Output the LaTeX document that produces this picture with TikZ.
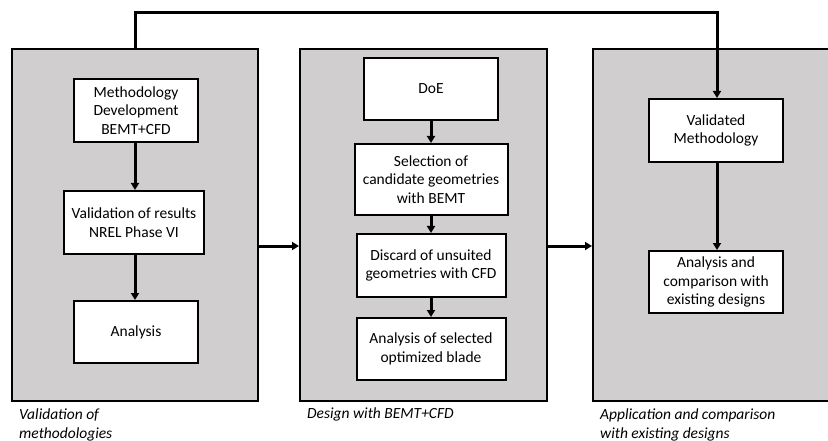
\documentclass[tikz,border=0pt]{standalone}
\usepackage{fontspec}
\setmainfont{Carlito}
\usetikzlibrary{arrows.meta,positioning}
\definecolor{panelgray}{RGB}{208,206,206}
\begin{document}
\begin{tikzpicture}[x=1pt,y=-1pt,
  panel/.style={draw=black,line width=2pt,fill=panelgray,inner sep=0pt},
  stepbox/.style={draw=black,line width=2pt,fill=white,align=center,inner sep=0pt,font=\fontsize{15.5}{18.8}\selectfont},
  arr/.style={line width=3pt,-{Triangle[length=7pt,width=8pt]}},
  captext/.style={anchor=north west,align=left,inner sep=0pt,font=\fontsize{15.5}{18.5}\selectfont\itshape}]
\useasboundingbox (0,0) rectangle (828,441);
\clip (0,0) rectangle (828,441);
% panels
\node[panel,minimum width=246pt,minimum height=352pt] (p1) at (135,225) {};
\node[panel,minimum width=247pt,minimum height=352pt] (p2) at (423.5,225) {};
\node[panel,minimum width=245pt,minimum height=352pt] (p3) at (715.5,225) {};
% left boxes
\node[stepbox,minimum width=124pt,minimum height=63pt] (a1) at (136,110.5) {Methodology\\Development\\BEMT+CFD};
\node[stepbox,minimum width=140pt,minimum height=63pt] (a2) at (134,222.5) {Validation of results\\NREL Phase VI};
\node[stepbox,minimum width=124pt,minimum height=62pt] (a3) at (136,332) {Analysis};
% middle boxes
\node[stepbox,minimum width=134pt,minimum height=62pt] (b1) at (431,89) {DoE};
\node[stepbox,minimum width=153pt,minimum height=71pt] (b2) at (431,179.5) {Selection of\\candidate geometries\\with BEMT};
\node[stepbox,minimum width=149pt,minimum height=63pt] (b3) at (431,265.5) {Discard of unsuited\\geometries with CFD};
\node[stepbox,minimum width=149pt,minimum height=62pt] (b4) at (431,349) {Analysis of selected\\optimized blade};
% right boxes
\node[stepbox,minimum width=134pt,minimum height=63pt] (c1) at (716,130.5) {Validated\\Methodology};
\node[stepbox,minimum width=134pt,minimum height=62pt] (c2) at (716,282) {Analysis and\\comparison with\\existing designs};
% arrows
\draw[arr] (a1.south -| 135,0) -- (a2.north -| 135,0);
\draw[arr] (a2.south -| 135,0) -- (a3.north -| 135,0);
\draw[arr] (b1) -- (b2);
\draw[arr] (b2) -- (b3);
\draw[arr] (b3) -- (b4);
\draw[arr] (c1.south -| 717,0) -- (c2.north -| 717,0);
\draw[arr] (p1.east |- 0,246) -- (p2.west |- 0,246);
\draw[arr] (p2.east |- 0,246) -- (p3.west |- 0,246);
\coordinate (tl) at (135,13);
\draw[arr] (p1.north -| tl) -- (tl) -| (c1.north -| 717,0);
% captions
\node[captext] (t1) at (19,409) {Validation of\\methodologies};
\node[captext] (t2) at (307,408) {Design with BEMT+CFD};
\node[captext] (t3) at (600,409) {Application and comparison\\with existing designs};
\end{tikzpicture}
\end{document}
